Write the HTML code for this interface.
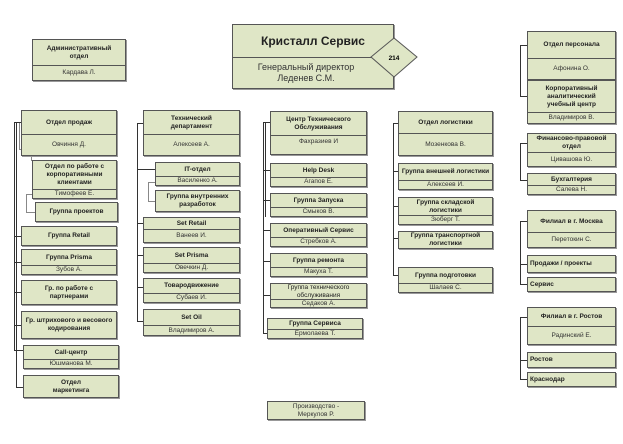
<!DOCTYPE html>
<html><head><meta charset="utf-8"><style>
*{box-sizing:border-box;margin:0;padding:0}
body{width:623px;height:444px;background:#fff;position:relative;overflow:hidden;font-family:"Liberation Sans",Arial,sans-serif;color:#222}
.b{position:absolute;background:#dfe6c6;border:1px solid #555;box-shadow:1px 1px 0 #999;display:flex;flex-direction:column}
.t{display:flex;align-items:center;justify-content:center;text-align:center;font-weight:bold;font-size:6.5px;line-height:8px;border-bottom:1px solid #555}
.n{flex:1;display:flex;align-items:center;justify-content:center;text-align:center;font-size:6.5px;line-height:8px;color:#333}
.s{flex:1;display:flex;align-items:center;justify-content:center;text-align:center;font-weight:bold;font-size:6.5px;line-height:8px}
.l{justify-content:flex-start;padding-left:2px}
.v{position:absolute;width:1px;background:#333}
.h{position:absolute;height:1px;background:#333}
.g{background:#888}
</style></head><body>

<div class="v" style="left:14px;top:122px;height:228px"></div>
<div class="v" style="left:16px;top:122px;height:265px"></div>
<div class="h" style="left:14px;top:122px;width:7px"></div>
<div class="v g" style="left:19px;top:123px;height:26px"></div>
<div class="h g" style="left:19px;top:149px;width:13px"></div>
<div class="v g" style="left:31px;top:149px;height:12px"></div>
<div class="v g" style="left:26px;top:194px;height:18px"></div>
<div class="h g" style="left:26px;top:194px;width:6px"></div>
<div class="h g" style="left:26px;top:212px;width:9px"></div>
<div class="h" style="left:14px;top:236px;width:7px"></div>
<div class="h" style="left:14px;top:262px;width:7px"></div>
<div class="h" style="left:14px;top:292px;width:7px"></div>
<div class="h" style="left:14px;top:325px;width:7px"></div>
<div class="h" style="left:14px;top:350px;width:9px"></div>
<div class="h" style="left:16px;top:387px;width:7px"></div>

<div class="v" style="left:137px;top:123px;height:199px"></div>
<div class="h" style="left:137px;top:123px;width:6px"></div>
<div class="h" style="left:137px;top:169px;width:18px"></div>
<div class="v g" style="left:148px;top:182px;height:19px"></div>
<div class="h g" style="left:148px;top:182px;width:7px"></div>
<div class="h g" style="left:148px;top:201px;width:7px"></div>
<div class="h" style="left:137px;top:223px;width:6px"></div>
<div class="h" style="left:137px;top:255px;width:6px"></div>
<div class="h" style="left:137px;top:287px;width:6px"></div>
<div class="h" style="left:137px;top:321px;width:6px"></div>

<div class="v" style="left:263px;top:122px;height:212px"></div>
<div class="v" style="left:265px;top:122px;height:95px"></div>
<div class="h" style="left:263px;top:122px;width:7px"></div>
<div class="h" style="left:263px;top:170px;width:7px"></div>
<div class="h" style="left:263px;top:200px;width:7px"></div>
<div class="h" style="left:263px;top:230px;width:7px"></div>
<div class="h" style="left:263px;top:261px;width:7px"></div>
<div class="h" style="left:263px;top:295px;width:7px"></div>
<div class="h" style="left:263px;top:333px;width:4px"></div>

<div class="v" style="left:393px;top:123px;height:152px"></div>
<div class="h" style="left:393px;top:123px;width:5px"></div>
<div class="h" style="left:393px;top:171px;width:5px"></div>
<div class="h" style="left:393px;top:206px;width:5px"></div>
<div class="h" style="left:393px;top:238px;width:5px"></div>
<div class="h" style="left:393px;top:275px;width:5px"></div>

<div class="v" style="left:520px;top:45px;height:51px"></div>
<div class="h" style="left:520px;top:45px;width:7px"></div>
<div class="h" style="left:520px;top:96px;width:7px"></div>
<div class="v" style="left:520px;top:143px;height:37px"></div>
<div class="h" style="left:520px;top:143px;width:7px"></div>
<div class="h" style="left:520px;top:180px;width:7px"></div>
<div class="v" style="left:520px;top:221px;height:63px"></div>
<div class="h" style="left:520px;top:221px;width:7px"></div>
<div class="h" style="left:520px;top:264px;width:7px"></div>
<div class="h" style="left:520px;top:284px;width:7px"></div>
<div class="v" style="left:520px;top:317px;height:62px"></div>
<div class="h" style="left:520px;top:317px;width:7px"></div>
<div class="h" style="left:520px;top:360px;width:7px"></div>
<div class="h" style="left:520px;top:379px;width:7px"></div>

<div class="b" style="left:32px;top:39px;width:94px;height:42px"><div class="t" style="height:26px">Административный<br>отдел</div><div class="n">Кардава Л.</div></div>
<div class="b" style="left:232px;top:24px;width:162px;height:65px"><div class="t" style="height:33px;font-size:12px">Кристалл Сервис</div><div class="n" style="font-size:9px;line-height:11px;padding-right:14px">Генеральный директор<br>Леденев С.М.</div></div>
<svg style="position:absolute;left:370px;top:37px" width="48" height="41"><polygon points="24,1 47,20 24,40 1,20" fill="#dfe6c6" stroke="#555"/><text x="24" y="23" font-size="6.5" font-weight="bold" text-anchor="middle" font-family="Liberation Sans,sans-serif">214</text></svg>

<div class="b" style="left:21px;top:110px;width:96px;height:46px"><div class="t" style="height:24px">Отдел продаж</div><div class="n">Овчиння Д.</div></div>
<div class="b" style="left:32px;top:160px;width:85px;height:39px"><div class="t" style="height:29px">Отдел по работе с<br>корпоративными<br>клиентами</div><div class="n">Тимофеев Е.</div></div>
<div class="b" style="left:35px;top:202px;width:83px;height:20px"><div class="s">Группа проектов</div></div>
<div class="b" style="left:21px;top:226px;width:96px;height:20px"><div class="s">Группа Retail</div></div>
<div class="b" style="left:21px;top:249px;width:96px;height:26px"><div class="t" style="height:17px">Группа Prisma</div><div class="n">Зубов А.</div></div>
<div class="b" style="left:21px;top:280px;width:96px;height:25px"><div class="s">Гр. по работе с<br>партнерами</div></div>
<div class="b" style="left:21px;top:311px;width:96px;height:28px"><div class="s">Гр. штрихового и весового<br>кодирования</div></div>
<div class="b" style="left:23px;top:345px;width:96px;height:24px"><div class="t" style="height:16px">Call-центр</div><div class="n">Юшманова М.</div></div>
<div class="b" style="left:23px;top:375px;width:96px;height:23px"><div class="s">Отдел<br>маркетинга</div></div>

<div class="b" style="left:143px;top:110px;width:97px;height:46px"><div class="t" style="height:24px">Технический<br>департамент</div><div class="n">Алексеев А.</div></div>
<div class="b" style="left:155px;top:162px;width:85px;height:24px"><div class="t" style="height:15px">IT-отдел</div><div class="n">Василенко А.</div></div>
<div class="b" style="left:155px;top:190px;width:85px;height:22px"><div class="s">Группа внутренних<br>разработок</div></div>
<div class="b" style="left:143px;top:217px;width:97px;height:26px"><div class="t" style="height:12px">Set Retail</div><div class="n">Ванеев И.</div></div>
<div class="b" style="left:143px;top:247px;width:97px;height:26px"><div class="t" style="height:16px">Set Prisma</div><div class="n">Овечкин Д.</div></div>
<div class="b" style="left:143px;top:278px;width:97px;height:25px"><div class="t" style="height:17px">Товародвижение</div><div class="n">Субаев И.</div></div>
<div class="b" style="left:143px;top:309px;width:97px;height:27px"><div class="t" style="height:16px">Set Oil</div><div class="n">Владимиров А.</div></div>

<div class="b" style="left:270px;top:111px;width:97px;height:44px"><div class="t" style="height:24px">Центр Технического<br>Обслуживания</div><div class="n" style="align-items:flex-start;padding-top:2px">Фахразиев И</div></div>
<div class="b" style="left:270px;top:163px;width:97px;height:24px"><div class="t" style="height:14px">Help Desk</div><div class="n">Агапов Е.</div></div>
<div class="b" style="left:270px;top:193px;width:97px;height:24px"><div class="t" style="height:14px">Группа Запуска</div><div class="n">Смыков В.</div></div>
<div class="b" style="left:270px;top:223px;width:97px;height:24px"><div class="t" style="height:14px">Оперативный Сервис</div><div class="n">Стребков А.</div></div>
<div class="b" style="left:270px;top:253px;width:97px;height:24px"><div class="t" style="height:15px">Группа ремонта</div><div class="n">Макуха Т.</div></div>
<div class="b" style="left:270px;top:283px;width:97px;height:25px"><div class="t" style="height:16px;font-weight:normal">Группа технического<br>обслуживания</div><div class="n">Седаков А.</div></div>
<div class="b" style="left:267px;top:318px;width:96px;height:21px"><div class="t" style="height:11px">Группа Сервиса</div><div class="n">Ермолаева Т.</div></div>

<div class="b" style="left:398px;top:111px;width:95px;height:45px"><div class="t" style="height:22px">Отдел логистики</div><div class="n">Мозенкова В.</div></div>
<div class="b" style="left:398px;top:163px;width:95px;height:27px"><div class="t" style="height:17px">Группа внешней логистики</div><div class="n">Алексеев И.</div></div>
<div class="b" style="left:398px;top:197px;width:95px;height:28px"><div class="t" style="height:18px">Группа складской<br>логистики</div><div class="n">Зюберг Т.</div></div>
<div class="b" style="left:398px;top:231px;width:95px;height:18px"><div class="s">Группа транспортной<br>логистики</div></div>
<div class="b" style="left:398px;top:267px;width:95px;height:26px"><div class="t" style="height:16px">Группа подготовки</div><div class="n">Шалаев С.</div></div>

<div class="b" style="left:527px;top:31px;width:89px;height:49px"><div class="t" style="height:27px">Отдел персонала</div><div class="n">Афонина О.</div></div>
<div class="b" style="left:527px;top:80px;width:89px;height:44px"><div class="t" style="height:32px">Корпоративный<br>аналитический<br>учебный центр</div><div class="n">Владимиров В.</div></div>
<div class="b" style="left:527px;top:133px;width:89px;height:34px"><div class="t" style="height:19px">Финансово-правовой<br>отдел</div><div class="n">Цивашова Ю.</div></div>
<div class="b" style="left:527px;top:173px;width:89px;height:22px"><div class="t" style="height:13px">Бухгалтерия</div><div class="n">Салева Н.</div></div>
<div class="b" style="left:527px;top:210px;width:89px;height:38px"><div class="t" style="height:22px">Филиал в г. Москва</div><div class="n">Перетокин С.</div></div>
<div class="b" style="left:527px;top:255px;width:89px;height:18px"><div class="s l">Продажи / проекты</div></div>
<div class="b" style="left:527px;top:277px;width:89px;height:15px"><div class="s l">Сервис</div></div>
<div class="b" style="left:527px;top:307px;width:89px;height:38px"><div class="t" style="height:19px">Филиал в г. Ростов</div><div class="n">Радинский Е.</div></div>
<div class="b" style="left:527px;top:352px;width:89px;height:16px"><div class="s l">Ростов</div></div>
<div class="b" style="left:527px;top:372px;width:89px;height:15px"><div class="s l">Краснодар</div></div>

<div class="b" style="left:267px;top:401px;width:98px;height:19px"><div class="n">Производство -<br>Меркулов Р.</div></div>
</body></html>
